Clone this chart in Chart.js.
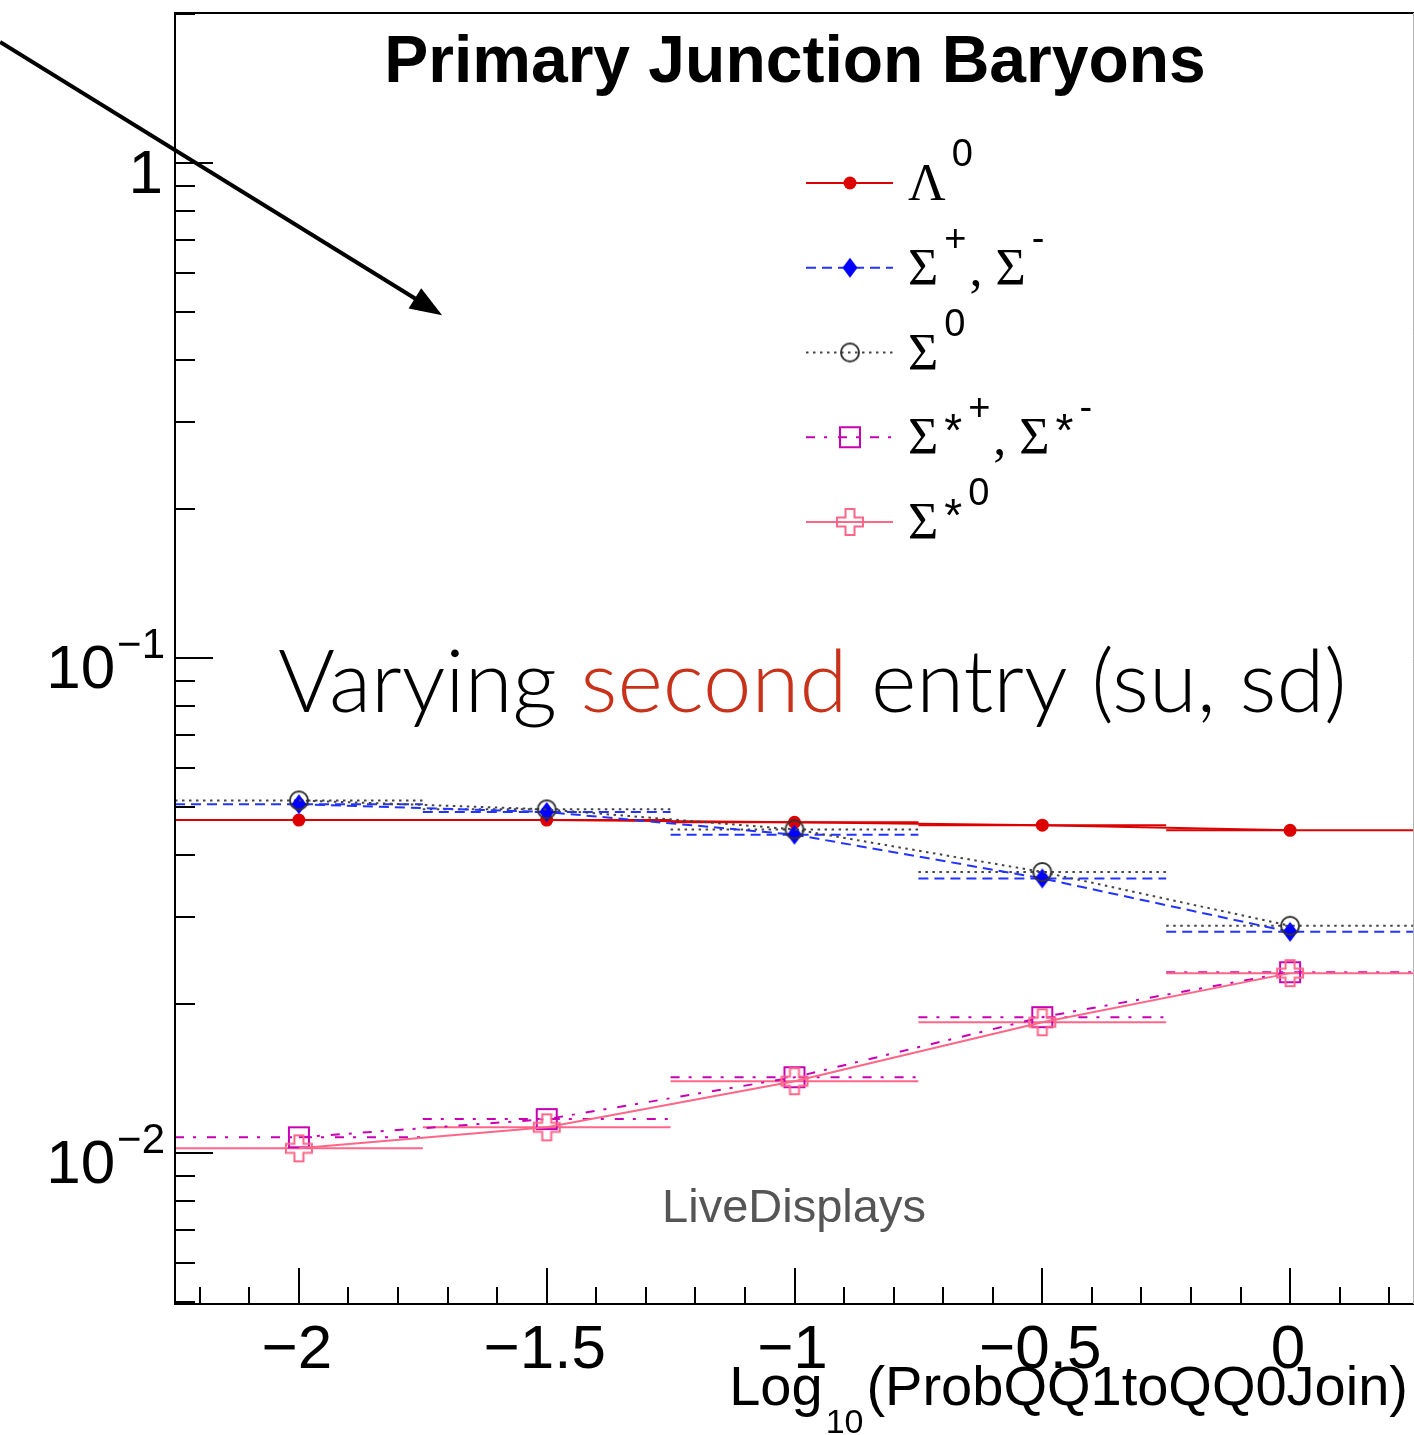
<!DOCTYPE html>
<html>
<head>
<meta charset="utf-8">
<script src="https://cdn.jsdelivr.net/npm/chart.js@4.4.0/dist/chart.umd.min.js"></script>
<style>
  html, body { margin: 0; padding: 0; background: #fff; }
  #wrap { width: 1414px; height: 1435px; }
</style>
</head>
<body>
<div id="wrap"><canvas id="chart" width="1414" height="1435"></canvas></div>
<script>
// Yields per bin, one array per species
const xValues = [-2, -1.5, -1, -0.5, 0];
const binHalfWidth = 0.25;
const lambda0 = [0.0471, 0.0471, 0.0466, 0.0460, 0.0449];
const sigmaPM = [0.0507, 0.0489, 0.0440, 0.0359, 0.0280];
const sigma0 = [0.0516, 0.0495, 0.0451, 0.0370, 0.0288];
const sigmaStarPM = [0.01077, 0.01172, 0.01424, 0.01883, 0.02321];
const sigmaStar0 = [0.01023, 0.01128, 0.01398, 0.01839, 0.02311];

// Axis ticks
const xTickValues = [-2, -1.5, -1, -0.5, 0];
const xTickLabels = ['\u22122', '\u22121.5', '\u22121', '\u22120.5', '0'];
const yTickValues = [1, 0.1, 0.01];
const yTickBases = ['1', '10', '10'];
const yTickExponents = ['', '\u22121', '\u22122'];

// Arrow annotation, in data units
const arrowFrom = { x: -2.603, y: 1.756 };
const arrowTo = { x: -1.711, y: 0.493 };

const SANS = '"Liberation Sans", Arial, sans-serif';
const SERIF = '"Liberation Serif", "Times New Roman", serif';

function makeMarker(size, draw) {
    const c = document.createElement('canvas');
    c.width = size;
    c.height = size;
    const g = c.getContext('2d');
    draw(g, size / 2);
    return c;
}

const diamondMarker = makeMarker(24, (g, m) => {
    g.fillStyle = '#0000ff';
    g.beginPath();
    g.moveTo(m, m - 10);
    g.lineTo(m + 7.5, m);
    g.lineTo(m, m + 10);
    g.lineTo(m - 7.5, m);
    g.closePath();
    g.fill();
});

const openCircleMarker = makeMarker(24, (g, m) => {
    g.strokeStyle = '#333333';
    g.lineWidth = 2;
    g.beginPath();
    g.arc(m, m, 9, 0, Math.PI * 2);
    g.stroke();
});

const openSquareMarker = makeMarker(26, (g, m) => {
    g.strokeStyle = '#c800b4';
    g.lineWidth = 2;
    g.strokeRect(m - 10, m - 10, 20, 20);
});

const openCrossMarker = makeMarker(30, (g, m) => {
    const a = 4.5, b = 13;
    g.strokeStyle = '#ff6688';
    g.lineWidth = 2;
    g.beginPath();
    g.moveTo(m - a, m - b); g.lineTo(m + a, m - b); g.lineTo(m + a, m - a);
    g.lineTo(m + b, m - a); g.lineTo(m + b, m + a); g.lineTo(m + a, m + a);
    g.lineTo(m + a, m + b); g.lineTo(m - a, m + b); g.lineTo(m - a, m + a);
    g.lineTo(m - b, m + a); g.lineTo(m - b, m - a); g.lineTo(m - a, m - a);
    g.closePath();
    g.stroke();
});

function series(label, values, color, dash, marker, order) {
    return {
        label: label,
        data: xValues.map((x, i) => ({ x: x, y: values[i] })),
        borderColor: color,
        borderWidth: 2,
        borderDash: dash,
        pointStyle: marker,
        pointRadius: 8,
        pointBackgroundColor: color,
        pointBorderWidth: 0,
        tension: 0,
        fill: false,
        order: order
    };
}

const datasets = [
    series('Lambda0', lambda0, '#dd0000', [], 'circle', 4),
    series('SigmaPM', sigmaPM, '#2233ff', [10, 6], diamondMarker, 3),
    series('Sigma0', sigma0, '#444444', [2.5, 4.5], openCircleMarker, 2),
    series('SigmaStarPM', sigmaStarPM, '#c800b4', [9, 9, 3, 11], openSquareMarker, 1),
    series('SigmaStar0', sigmaStar0, '#ff6688', [], openCrossMarker, 0)
];
datasets[0].pointRadius = 6.5;

// Legend entries: text pieces are m = main (serif), s = superscript, a = asterisk
const legendRows = [
    [['\u039B', 'm'], ['0', 's']],
    [['\u03A3', 'm'], ['+', 's'], [', \u03A3', 'm'], ['-', 's']],
    [['\u03A3', 'm'], ['0', 's']],
    [['\u03A3', 'm'], ['*', 'a'], ['+', 's'], [', \u03A3', 'm'], ['*', 'a'], ['-', 's']],
    [['\u03A3', 'm'], ['*', 'a'], ['0', 's']]
];

function drawParts(ctx, x, baseline, parts) {
    const styles = {
        m: { font: '52px ' + SERIF, dy: 0, gap: 3 },
        s: { font: '38px ' + SANS, dy: -34, gap: 6 },
        a: { font: '46px ' + SANS, dy: -8, gap: 6 }
    };
    ctx.textAlign = 'left';
    ctx.textBaseline = 'alphabetic';
    parts.forEach(([text, kind], i) => {
        const st = styles[kind];
        const gap = i === 0 ? 0 : st.gap;
        ctx.font = st.font;
        ctx.fillText(text, x + gap, baseline + st.dy);
        x += ctx.measureText(text).width + gap;
    });
}

const errorBarPlugin = {
    id: 'errorBars',
    beforeDatasetsDraw(chart) {
        const ctx = chart.ctx;
        const xs = chart.scales.x, ys = chart.scales.y;
        const area = chart.chartArea;
        ctx.save();
        ctx.beginPath();
        ctx.rect(area.left, area.top, area.right - area.left, area.bottom - area.top);
        ctx.clip();
        chart.data.datasets.forEach(ds => {
            ctx.strokeStyle = ds.borderColor;
            ctx.lineWidth = ds.borderWidth;
            ctx.setLineDash(ds.borderDash);
            ds.data.forEach(p => {
                const y = ys.getPixelForValue(p.y);
                ctx.beginPath();
                ctx.moveTo(xs.getPixelForValue(p.x - binHalfWidth), y);
                ctx.lineTo(xs.getPixelForValue(p.x + binHalfWidth), y);
                ctx.stroke();
            });
        });
        ctx.restore();
    }
};

const framePlugin = {
    id: 'frame',
    beforeDraw(chart) {
        const ctx = chart.ctx;
        ctx.save();
        ctx.fillStyle = '#ffffff';
        ctx.fillRect(0, 0, chart.width, chart.height);
        ctx.restore();
    },
    afterDraw(chart) {
        const ctx = chart.ctx;
        const xs = chart.scales.x, ys = chart.scales.y;
        const a = chart.chartArea;
        ctx.save();

        // frame
        ctx.strokeStyle = '#000';
        ctx.lineWidth = 2;
        ctx.setLineDash([]);
        ctx.beginPath();
        ctx.moveTo(a.right, a.top);
        ctx.lineTo(a.left, a.top);
        ctx.lineTo(a.left, a.bottom);
        ctx.lineTo(a.right, a.bottom);
        ctx.stroke();
        ctx.strokeStyle = '#b0b0b0';
        ctx.lineWidth = 1;
        ctx.beginPath();
        ctx.moveTo(a.right - 0.5, a.top);
        ctx.lineTo(a.right - 0.5, a.bottom);
        ctx.stroke();

        // y ticks (inside)
        ctx.strokeStyle = '#000';
        ctx.lineWidth = 2;
        for (let e = -3; e <= 0; e++) {
            for (let k = 1; k <= 9; k++) {
                const v = k * Math.pow(10, e);
                if (v < ys.min || v > ys.max) continue;
                const y = Math.round(ys.getPixelForValue(v));
                ctx.beginPath();
                ctx.moveTo(a.left, y);
                ctx.lineTo(a.left + (k === 1 ? 38 : 20), y);
                ctx.stroke();
            }
        }
        // x ticks (inside)
        for (let i = -23; i <= 3; i++) {
            const v = i / 10;
            if (v < xs.min || v > xs.max) continue;
            const x = Math.round(xs.getPixelForValue(v));
            const major = i % 5 === 0;
            ctx.beginPath();
            ctx.moveTo(x, a.bottom);
            ctx.lineTo(x, a.bottom - (major ? 36 : 17));
            ctx.stroke();
        }

        ctx.fillStyle = '#000';
        // y labels
        yTickValues.forEach((v, i) => {
            const y = ys.getPixelForValue(v) + 30;
            ctx.font = '62px ' + SANS;
            const wb = ctx.measureText(yTickBases[i]).width;
            ctx.font = '42px ' + SANS;
            const we = yTickExponents[i] ? ctx.measureText(yTickExponents[i]).width : 0;
            let x = 163 - wb - we;
            ctx.textAlign = 'left';
            ctx.textBaseline = 'alphabetic';
            ctx.font = '62px ' + SANS;
            ctx.fillText(yTickBases[i], x, y);
            if (yTickExponents[i]) {
                ctx.font = '42px ' + SANS;
                ctx.fillText(yTickExponents[i], x + wb + 2, y - 30);
            }
        });

        // x labels
        ctx.font = '62px ' + SANS;
        ctx.textAlign = 'center';
        xTickValues.forEach((v, i) => {
            ctx.fillText(xTickLabels[i], xs.getPixelForValue(v) - 2, 1368);
        });

        // x axis title, right aligned
        ctx.textAlign = 'left';
        ctx.font = '56px ' + SANS;
        const wLog = ctx.measureText('Log').width;
        const wRest = ctx.measureText('(ProbQQ1toQQ0Join)').width;
        ctx.font = '34px ' + SANS;
        const wSub = ctx.measureText('10').width;
        let tx = 1408 - wLog - wSub - wRest - 6;
        ctx.font = '56px ' + SANS;
        ctx.fillText('Log', tx, 1405);
        ctx.font = '34px ' + SANS;
        ctx.fillText('10', tx + wLog + 3, 1433);
        ctx.font = '56px ' + SANS;
        ctx.fillText('(ProbQQ1toQQ0Join)', tx + wLog + wSub + 6, 1405);

        // title
        ctx.font = 'bold 66px ' + SANS;
        ctx.textAlign = 'center';
        ctx.fillText('Primary Junction Baryons', 795, 82);

        // watermark
        ctx.font = '47px ' + SANS;
        ctx.fillStyle = '#555555';
        ctx.fillText('LiveDisplays', 794, 1222);

        // annotation line of text
        const pieces = [['Varying ', '#000000'], ['second', '#c9321a'], [' entry (su, sd)', '#000000']];
        ctx.textAlign = 'left';
        let size = 84;
        ctx.font = '300 ' + size + 'px Lato, "Open Sans", sans-serif';
        const full = ctx.measureText(pieces.map(p => p[0]).join('')).width;
        size = size * 1069 / full;
        ctx.font = '300 ' + size + 'px Lato, "Open Sans", sans-serif';
        let vx = 278;
        pieces.forEach(([t, c]) => {
            ctx.fillStyle = c;
            ctx.fillText(t, vx, 712);
            vx += ctx.measureText(t).width;
        });

        // legend
        ctx.fillStyle = '#000';
        legendRows.forEach((parts, i) => {
            const ds = chart.data.datasets[i];
            const y = 183 + i * 84.75;
            ctx.strokeStyle = ds.borderColor;
            ctx.lineWidth = 2;
            ctx.setLineDash(ds.borderDash);
            ctx.beginPath();
            ctx.moveTo(806, y);
            ctx.lineTo(893, y);
            ctx.stroke();
            ctx.setLineDash([]);
            if (ds.pointStyle === 'circle') {
                ctx.fillStyle = ds.borderColor;
                ctx.beginPath();
                ctx.arc(850, y, 6.5, 0, Math.PI * 2);
                ctx.fill();
            } else {
                const img = ds.pointStyle;
                ctx.drawImage(img, 850 - img.width / 2, y - img.height / 2);
            }
            ctx.fillStyle = '#000';
            drawParts(ctx, 908, y + 17, parts);
        });

        // arrow
        const x0 = xs.getPixelForValue(arrowFrom.x), y0 = ys.getPixelForValue(arrowFrom.y);
        const x1 = xs.getPixelForValue(arrowTo.x), y1 = ys.getPixelForValue(arrowTo.y);
        const ang = Math.atan2(y1 - y0, x1 - x0);
        const headLen = 32, headHalf = 12;
        ctx.strokeStyle = '#000';
        ctx.fillStyle = '#000';
        ctx.lineWidth = 4;
        ctx.beginPath();
        ctx.moveTo(x0, y0);
        ctx.lineTo(x1 - Math.cos(ang) * headLen * 0.8, y1 - Math.sin(ang) * headLen * 0.8);
        ctx.stroke();
        ctx.beginPath();
        ctx.moveTo(x1, y1);
        ctx.lineTo(x1 - Math.cos(ang) * headLen - Math.sin(ang) * headHalf, y1 - Math.sin(ang) * headLen + Math.cos(ang) * headHalf);
        ctx.lineTo(x1 - Math.cos(ang) * headLen + Math.sin(ang) * headHalf, y1 - Math.sin(ang) * headLen - Math.cos(ang) * headHalf);
        ctx.closePath();
        ctx.fill();

        ctx.restore();
    }
};

new Chart(document.getElementById('chart'), {
    type: 'line',
    data: { datasets: datasets },
    options: {
        responsive: false,
        animation: false,
        devicePixelRatio: 1,
        layout: { autoPadding: false, padding: { left: 175, top: 13, right: 0, bottom: 131 } },
        scales: {
            x: { type: 'linear', min: -2.25, max: 0.25, display: false },
            y: { type: 'logarithmic', min: 0.00496, max: 2.01, display: false }
        },
        plugins: {
            legend: { display: false },
            tooltip: { enabled: false }
        }
    },
    plugins: [framePlugin, errorBarPlugin]
});
</script>
</body>
</html>
